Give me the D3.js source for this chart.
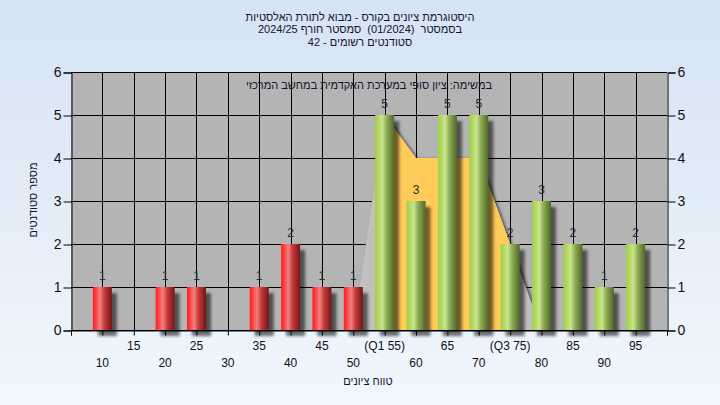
<!DOCTYPE html>
<html>
<head>
<meta charset="utf-8">
<script src="https://cdn.jsdelivr.net/npm/d3@7"></script>
<style>
  html, body { margin: 0; padding: 0; }
  body { width: 720px; height: 405px; overflow: hidden; }
  text { font-family: "Liberation Sans", Arial, "DejaVu Sans", sans-serif; white-space: pre; }
</style>
</head>
<body>
<div id="chart"></div>
<script>
// histogram data
const grades = [10, 15, 20, 25, 30, 35, 40, 45, 50, 55, 60, 65, 70, 75, 80, 85, 90, 95];
const counts = [1, 0, 1, 1, 0, 1, 2, 1, 1, 5, 3, 5, 5, 2, 3, 2, 1, 2];
const tickLabels = ['10', '15', '20', '25', '30', '35', '40', '45', '50', '(Q1 55)',
  '60', '65', '70', '(Q3 75)', '80', '85', '90', '95'];
const passGrade = 55;

// the distribution area drawn behind the bars
const curveX = [50, 55, 60, 65, 70, 75, 80];
const curveY = [0, 5, 4, 4, 4, 2, 0];
const q1 = 55;
const q3 = 75;

const titleLines = [
  'היסטוגרמת ציונים בקורס - מבוא לתורת האלסטיות',
  'בסמסטר  (01/2024)  סמסטר חורף 2024/25',
  'סטודנטים רשומים - 42',
];
const subTitle = 'במשימה: ציון סופי במערכת האקדמית במחשב המרכזי';
const xTitle = 'טווח ציונים';
const yTitle = 'מספר סטודנטים';

const W = 720;
const H = 405;
const plot = { left: 71, right: 667, top: 72, bottom: 330 };

const svg = d3.select('#chart')
  .append('svg')
  .attr('width', W)
  .attr('height', H);

const defs = svg.append('defs');

const bg = defs.append('linearGradient')
  .attr('id', 'bg').attr('x1', 0).attr('y1', 0).attr('x2', 0).attr('y2', 1);
bg.append('stop').attr('offset', '0%').attr('stop-color', '#d5e3f4');
bg.append('stop').attr('offset', '100%').attr('stop-color', '#f1f7fd');

function barGradient(id, stops) {
  const gr = defs.append('linearGradient')
    .attr('id', id).attr('x1', 0).attr('y1', 0).attr('x2', 1).attr('y2', 0);
  stops.forEach(s => gr.append('stop').attr('offset', s[0]).attr('stop-color', s[1]));
}
barGradient('redBar', [['0%', '#ff1c1c'], ['18%', '#ff4646'], ['38%', '#f28282'],
  ['60%', '#c83c3c'], ['100%', '#761414']]);
barGradient('greenBar', [['0%', '#a2cf45'], ['18%', '#b2d862'], ['38%', '#c9e58f'],
  ['60%', '#8fae55'], ['100%', '#4f6829']]);

defs.append('filter').attr('id', 'blur').attr('x', '-50%').attr('y', '-50%')
  .attr('width', '200%').attr('height', '200%')
  .append('feGaussianBlur').attr('stdDeviation', 1.8);

defs.append('clipPath').attr('id', 'plotClip')
  .append('rect')
  .attr('x', plot.left).attr('y', plot.top)
  .attr('width', plot.right - plot.left).attr('height', plot.bottom - plot.top);

svg.append('rect').attr('width', W).attr('height', H).attr('fill', 'url(#bg)');

const x = d3.scaleLinear().domain([5, 100]).range([plot.left, plot.right]);
const y = d3.scaleLinear().domain([0, 6]).range([plot.bottom, plot.top]);

// yellow between the quartiles, light grey outside
defs.append('clipPath').attr('id', 'iqrClip')
  .append('rect')
  .attr('x', x(q1)).attr('y', plot.top)
  .attr('width', x(q3) - x(q1)).attr('height', plot.bottom - plot.top);

svg.append('rect')
  .attr('x', plot.left).attr('y', plot.top)
  .attr('width', plot.right - plot.left).attr('height', plot.bottom - plot.top)
  .attr('fill', '#b4b4b4');

const g = svg.append('g');

// grid
g.append('g')
  .selectAll('line')
  .data(d3.range(0, 7))
  .join('line')
  .attr('x1', plot.left).attr('x2', plot.right)
  .attr('y1', d => y(d) + 0.5).attr('y2', d => y(d) + 0.5)
  .attr('stroke', '#000').attr('stroke-width', 1);

g.append('g')
  .selectAll('line')
  .data(grades)
  .join('line')
  .attr('x1', d => Math.round(x(d)) + 0.5).attr('x2', d => Math.round(x(d)) + 0.5)
  .attr('y1', plot.top).attr('y2', plot.bottom)
  .attr('stroke', '#000').attr('stroke-width', 1);

const curve = curveX.map((v, i) => ({ x: v, y: curveY[i] }));
const area = d3.area()
  .x(d => x(d.x))
  .y0(y(0))
  .y1(d => y(d.y));

const areaG = g.append('g').attr('clip-path', 'url(#plotClip)');
areaG.append('path')
  .datum(curve)
  .attr('d', area)
  .attr('transform', 'translate(2,1)')
  .attr('fill', '#2a2a2a')
  .attr('opacity', 0.8)
  .attr('filter', 'url(#blur)');
areaG.append('path')
  .datum(curve)
  .attr('d', area)
  .attr('fill', '#c0c0c0');
areaG.append('path')
  .datum(curve)
  .attr('d', area)
  .attr('fill', '#ffcc5a')
  .attr('clip-path', 'url(#iqrClip)');

// bars
const bars = grades.map((v, i) => ({ x: v, n: counts[i] })).filter(d => d.n > 0);
const barW = 19;

g.append('g')
  .selectAll('rect')
  .data(bars)
  .join('rect')
  .attr('x', d => x(d.x) - barW / 2 + 5)
  .attr('y', d => y(d.n) + 6)
  .attr('width', barW)
  .attr('height', d => y(0) - y(d.n))
  .attr('fill', '#000')
  .attr('opacity', 0.55)
  .attr('filter', 'url(#blur)');

g.append('g')
  .selectAll('rect')
  .data(bars)
  .join('rect')
  .attr('x', d => x(d.x) - barW / 2)
  .attr('y', d => y(d.n))
  .attr('width', barW)
  .attr('height', d => y(0) - y(d.n))
  .attr('fill', d => (d.x < passGrade ? 'url(#redBar)' : 'url(#greenBar)'));

g.append('g')
  .selectAll('text')
  .data(bars)
  .join('text')
  .attr('x', d => x(d.x))
  .attr('y', d => y(d.n) - 7)
  .attr('text-anchor', 'middle')
  .attr('font-size', 12)
  .attr('fill', '#1f2c3c')
  .text(d => d.n);

// axes
const xAxis = svg.append('g')
  .attr('transform', `translate(0,${plot.bottom + 0.5})`)
  .call(d3.axisBottom(x).tickValues([5].concat(grades, [100])).tickSize(5).tickFormat(''));
xAxis.select('.domain').attr('stroke', '#000');

svg.append('g')
  .selectAll('text')
  .data(grades)
  .join('text')
  .attr('x', d => x(d))
  .attr('y', (d, i) => (i % 2 ? 350 : 367))
  .attr('text-anchor', 'middle')
  .attr('font-size', 12)
  .attr('fill', '#111')
  .attr('direction', 'ltr')
  .text((d, i) => tickLabels[i]);

const yLeft = svg.append('g')
  .attr('transform', `translate(${plot.left + 0.5},0.5)`)
  .call(d3.axisLeft(y).ticks(6).tickSize(8).tickPadding(2));
const yRight = svg.append('g')
  .attr('transform', `translate(${plot.right + 0.5},0.5)`)
  .call(d3.axisRight(y).ticks(6).tickSize(8).tickPadding(2));
[yLeft, yRight].forEach(a => {
  a.selectAll('text').attr('font-size', 14).attr('fill', '#111')
    .style('font-family', '"Liberation Sans", Arial, sans-serif');
  a.select('.domain').attr('stroke', '#000');
});

// titles
svg.append('g')
  .selectAll('text')
  .data(titleLines)
  .join('text')
  .attr('x', 360)
  .attr('y', (d, i) => 21 + i * 12.3)
  .attr('text-anchor', 'middle')
  .attr('direction', 'rtl')
  .attr('font-size', 11)
  .attr('fill', '#10152a')
  .text(d => d);

svg.append('text')
  .attr('x', 369)
  .attr('y', 89)
  .attr('text-anchor', 'middle')
  .attr('direction', 'rtl')
  .attr('font-size', 11)
  .attr('fill', '#10152a')
  .text(subTitle);

svg.append('text')
  .attr('x', 368)
  .attr('y', 385)
  .attr('text-anchor', 'middle')
  .attr('direction', 'rtl')
  .attr('font-size', 11)
  .attr('fill', '#10152a')
  .text(xTitle);

svg.append('text')
  .attr('transform', 'translate(37,200) rotate(-90)')
  .attr('text-anchor', 'middle')
  .attr('direction', 'rtl')
  .attr('font-size', 11)
  .attr('fill', '#10152a')
  .text(yTitle);
</script>
</body>
</html>
